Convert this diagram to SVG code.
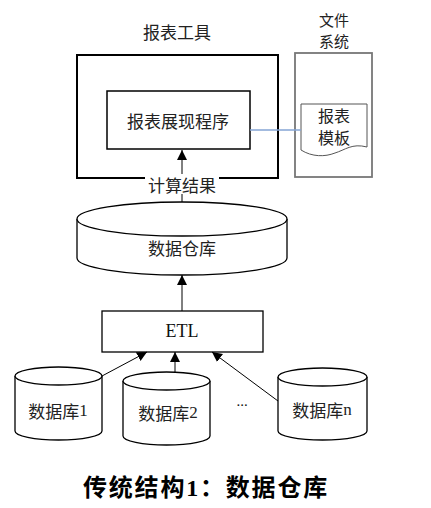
<svg xmlns="http://www.w3.org/2000/svg" width="431" height="508" viewBox="0 0 431 508">
<style>
  .t { font-family: "Noto Sans CJK SC", "Liberation Serif", serif; fill: #222; text-anchor: middle; dominant-baseline: central; }
  .s { font-family: "Liberation Serif", "Noto Sans CJK SC", serif; fill: #111; text-anchor: middle; dominant-baseline: central; }
  .box { fill: #fff; stroke: #000; }
  .cyl { fill: #fff; stroke: #000; stroke-width: 1.3; }
  .conn { stroke: #000; stroke-width: 1; fill: none; }
</style>
<defs>
  <marker id="ah" markerWidth="10" markerHeight="12" refX="10" refY="5" orient="auto" markerUnits="userSpaceOnUse" viewBox="0 0 10 10">
    <path d="M0,0 L10,5 L0,10 Z" fill="#000"/>
  </marker>
</defs>
<rect width="431" height="508" fill="#fff"/>

<g id="report-tool">
  <rect class="box" x="77" y="55" width="201" height="123" stroke-width="2"/>
  <text class="t" x="177" y="31" font-size="17">报表工具</text>
</g>
<g id="report-program">
  <rect class="box" x="107" y="91" width="143" height="58" stroke-width="1.5"/>
  <text class="t" x="178" y="120" font-size="17">报表展现程序</text>
</g>
<g id="file-system">
  <rect x="295" y="53" width="77" height="124" fill="#fff" stroke="#777" stroke-width="1.8"/>
  <text class="t" x="334" y="19" font-size="15">文件</text>
  <text class="t" x="334" y="40" font-size="15">系统</text>
</g>
<g id="report-template">
  <path d="M301,104 H367 V147 C352,143 345,150 335,153 C325,157 312,157 301,150 Z" fill="#fff" stroke="#555" stroke-width="1"/>
  <text class="t" x="334" y="115" font-size="16">报表</text>
  <text class="t" x="334" y="137" font-size="16">模板</text>
</g>
<g id="data-warehouse">
  <path class="cyl" d="M77,219 V258 A105,17 0 0 0 287,258 V219 A105,17 0 0 0 77,219 Z"/>
  <path class="cyl" fill="none" d="M77,219 A105,17 0 0 0 287,219"/>
  <text class="t" x="182" y="247" font-size="17">数据仓库</text>
</g>
<g id="etl">
  <rect class="box" x="102" y="311" width="161" height="41" stroke-width="1.3"/>
  <text class="s" x="182" y="331" font-size="18">ETL</text>
</g>
<g id="db1">
  <path class="cyl" d="M15,376 V431 A43.5,9 0 0 0 102,431 V376 A43.5,9 0 0 0 15,376 Z"/>
  <path class="cyl" fill="none" d="M15,376 A43.5,9 0 0 0 102,376"/>
  <text class="t" x="58" y="410" font-size="17">数据库<tspan font-family="Liberation Serif">1</tspan></text>
</g>
<g id="db2">
  <path class="cyl" d="M123,381 V436 A43.5,9 0 0 0 210,436 V381 A43.5,9 0 0 0 123,381 Z"/>
  <path class="cyl" fill="none" d="M123,381 A43.5,9 0 0 0 210,381"/>
  <text class="t" x="168" y="412" font-size="17">数据库<tspan font-family="Liberation Serif">2</tspan></text>
</g>
<g id="dbn">
  <path class="cyl" d="M278,377 V431 A44.5,9 0 0 0 367,431 V377 A44.5,9 0 0 0 278,377 Z"/>
  <path class="cyl" fill="none" d="M278,377 A44.5,9 0 0 0 367,377"/>
  <text class="t" x="322" y="409" font-size="17">数据库<tspan font-family="Liberation Serif">n</tspan></text>
</g>
<g id="ellipsis">
  <text class="s" x="242" y="401" font-size="15">...</text>
</g>

<g id="connectors">
  <line x1="250" y1="130" x2="301" y2="130" stroke="#84a4d4" stroke-width="1.5"/>
  <line class="conn" x1="182" y1="202" x2="182" y2="150" marker-end="url(#ah)"/>
  <line class="conn" x1="182" y1="311" x2="182" y2="275" marker-end="url(#ah)"/>
  <line class="conn" x1="102" y1="376" x2="147" y2="352" marker-end="url(#ah)"/>
  <line class="conn" x1="175" y1="372" x2="175" y2="352" marker-end="url(#ah)"/>
  <line class="conn" x1="278" y1="401" x2="212" y2="352" marker-end="url(#ah)"/>
  <g id="calc-label">
    <rect x="145" y="174" width="74" height="20" fill="#fff"/>
    <text class="t" x="182" y="184" font-size="17">计算结果</text>
  </g>
</g>

<text id="caption" x="206" y="488" font-family="Liberation Serif, 'Noto Sans CJK SC', serif" font-weight="bold" font-size="24" letter-spacing="1.8" text-anchor="middle" dominant-baseline="central" fill="#000">传统结构1：数据仓库</text>
</svg>
